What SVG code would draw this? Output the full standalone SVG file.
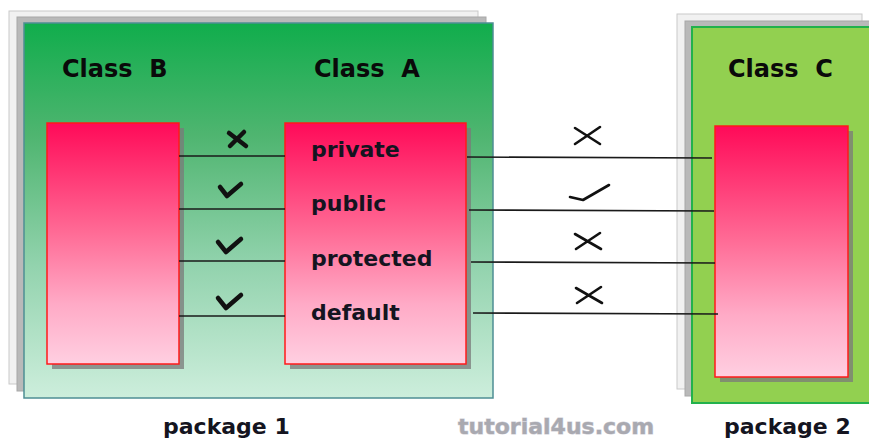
<svg xmlns="http://www.w3.org/2000/svg" width="869" height="441" viewBox="0 0 869 441">
<defs>
<linearGradient id="pk1" x1="0" y1="0" x2="0" y2="1">
<stop offset="0" stop-color="#10ad4c"/>
<stop offset="0.3" stop-color="#4fb570"/>
<stop offset="0.65" stop-color="#93d3ae"/>
<stop offset="1" stop-color="#cdeedc"/>
</linearGradient>
<linearGradient id="cls" x1="0" y1="0" x2="0" y2="1">
<stop offset="0" stop-color="#ff0a58"/>
<stop offset="0.45" stop-color="#ff6a95"/>
<stop offset="0.75" stop-color="#ffaac6"/>
<stop offset="1" stop-color="#ffcfe1"/>
</linearGradient>
</defs>
<style>
.sheet1{fill:#f1f1f1;stroke:#c9c9c9;stroke-width:1}
.sheet2{fill:#b9b9b9;stroke:#a8a8a8;stroke-width:1}
.cls{fill:url(#cls);stroke:#ff1a1a;stroke-width:1.5}
.shadow{fill:#7a7a7a;opacity:0.75}
.title{font-family:"DejaVu Sans",sans-serif;font-weight:bold;font-size:24px;fill:#0a0a0a;white-space:pre}
.mem{font-family:"DejaVu Sans",sans-serif;font-weight:bold;font-size:22px;fill:#141420}
.pkg{font-family:"DejaVu Sans",sans-serif;font-weight:bold;font-size:22px;fill:#141420}
.wm{font-family:"DejaVu Sans",sans-serif;font-weight:bold;font-size:22px;fill:#a9a9b0;stroke:#d0d0d8;stroke-width:1;paint-order:stroke}
.conn line{stroke:#1a1a1a;stroke-width:1.6}
.bold{fill:none;stroke:#111;stroke-width:4.5;stroke-linecap:round;stroke-linejoin:round}
.thin{fill:none;stroke:#111;stroke-width:2.6;stroke-linecap:round;stroke-linejoin:round}
</style>

<g id="package1">
<rect class="sheet1" x="9" y="11" width="469" height="373"/>
<rect class="sheet2" x="17" y="17" width="469" height="374"/>
<rect x="24" y="23" width="469" height="375" fill="url(#pk1)" stroke="#4e8e94" stroke-width="1.5"/>
<text class="pkg" x="163" y="434">package 1</text>
</g>

<g id="package2">
<rect class="sheet1" x="677" y="14" width="185" height="375"/>
<rect class="sheet2" x="685" y="21" width="190" height="375"/>
<rect x="692" y="27" width="190" height="376" fill="#92d050" stroke="#22b14c" stroke-width="2"/>
<text class="pkg" x="724" y="434">package 2</text>
</g>

<g id="classB">
<rect class="shadow" x="52" y="128" width="132" height="241"/>
<rect class="cls" x="47" y="123" width="132" height="241"/>
<text class="title" x="62" y="77">Class  B</text>
</g>

<g id="classA">
<rect class="shadow" x="290" y="128" width="181" height="241"/>
<rect class="cls" x="285" y="123" width="181" height="241"/>
<text class="title" x="314" y="77">Class  A</text>
<text class="mem" x="311" y="157">private</text>
<text class="mem" x="311" y="211">public</text>
<text class="mem" x="311" y="266">protected</text>
<text class="mem" x="311" y="320">default</text>
</g>

<g id="classC">
<rect class="shadow" x="720" y="131" width="133" height="251"/>
<rect class="cls" x="715" y="126" width="133" height="251"/>
<text class="title" x="728" y="77">Class  C</text>
</g>

<g id="connectors" class="conn">
<line x1="179" y1="156" x2="285" y2="156"/>
<line x1="179" y1="209" x2="285" y2="209"/>
<line x1="179" y1="261" x2="285" y2="261"/>
<line x1="179" y1="316" x2="285" y2="316"/>
<line x1="467" y1="157" x2="712" y2="158"/>
<line x1="469" y1="210" x2="714" y2="211"/>
<line x1="471" y1="262" x2="715" y2="263"/>
<line x1="473" y1="313" x2="718" y2="314"/>
</g>

<g id="marks">
<path class="bold" d="M229 133 L246 146 M244 132 L230 146"/>
<path class="bold" d="M220 187 L227 196 L241 184"/>
<path class="bold" d="M218 242 L226 252 L241 239"/>
<path class="bold" d="M218 298 L226 308 L241 295"/>
<path class="thin" d="M575 128 L600 144 M600 127 L575 144"/>
<path class="thin" d="M570 197 L583 200 L609 185"/>
<path class="thin" d="M575 234 L601 249 M600 233 L576 249"/>
<path class="thin" d="M576 288 L602 303 M601 287 L577 303"/>
</g>

<text id="watermark" class="wm" x="458" y="434">tutorial4us.com</text>
</svg>
